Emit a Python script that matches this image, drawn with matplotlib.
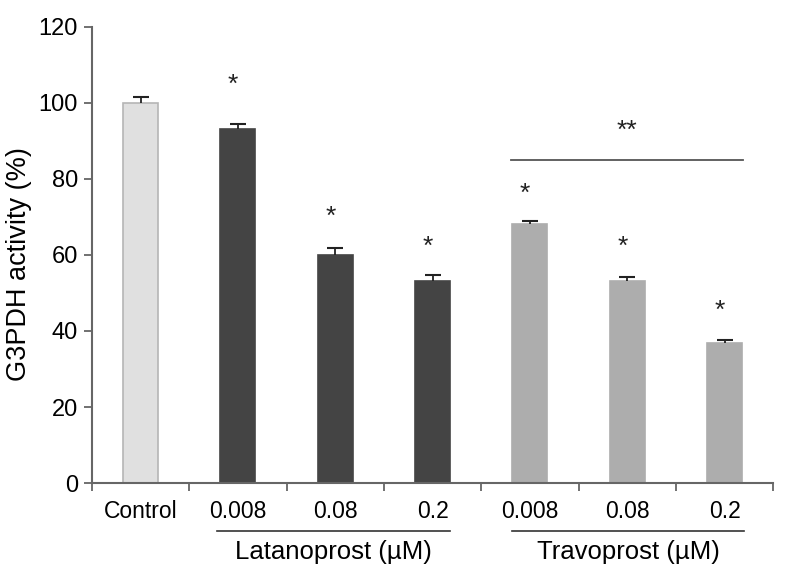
import numpy as np
import matplotlib
matplotlib.use("Agg")
import matplotlib.pyplot as plt
import matplotlib.transforms as mtransforms

plt.rcParams['font.family'] = ['Liberation Sans', 'DejaVu Sans']

# data
categories = ["Control", "0.008", "0.08", "0.2", "0.008", "0.08", "0.2"]
values = [100.0, 93.0, 60.0, 53.2, 68.0, 53.2, 36.8]
errors = [1.4, 1.3, 1.8, 1.4, 0.8, 1.1, 0.8]
stars = ["", "*", "*", "*", "*", "*", "*"]
star_y = [0, 104.6, 69.9, 62.2, 76.0, 62.2, 45.3]
bar_colors = ["#e0e0e0", "#444444", "#444444", "#444444", "#adadad", "#adadad", "#adadad"]
edge_colors = ["#b5b5b5", "#444444", "#444444", "#444444", "#adadad", "#adadad", "#adadad"]
groups = ["Latanoprost (\u00b5M)", "Travoprost (\u00b5M)"]
group_span = [(0.78, 3.18), (3.82, 6.20)]
sig_span = (3.81, 6.19)
sig_y = 85.0
sig_star_y = 92.7

fig = plt.figure(figsize=(7.93, 5.82), dpi=100)
ax = fig.add_axes([0.116, 0.170, 0.859, 0.784])

x = np.arange(len(categories))
ax.bar(x, values, width=0.36, color=bar_colors, edgecolor=edge_colors, linewidth=1.2, zorder=2)
eb = ax.errorbar(x, values, yerr=[np.zeros(len(values)), errors], fmt="none",
                 ecolor="#222222", elinewidth=1.3, capsize=6, capthick=1.5, zorder=3)
# only the upper cap, like a T
eb[1][0].set_visible(False)

for xi, s, sy in zip(x, stars, star_y):
    if s:
        ax.text(xi - 0.05, sy, s, ha="center", va="center", fontsize=19, color="#222222")

# significance line
ax.plot(sig_span, [sig_y, sig_y], color="#555555", lw=1.3)
ax.text(5.0, sig_star_y, "**", ha="center", va="center", fontsize=19, color="#222222")

ax.set_xlim(-0.5, 6.5)
ax.set_ylim(0, 120)
ax.set_yticks([0, 20, 40, 60, 80, 100, 120])
ax.tick_params(axis="y", labelsize=17, length=6, width=1.3, color="#666666", pad=4)

ax.set_xticks(x)
ax.set_xticklabels(categories, fontsize=16.5)
ax.tick_params(axis="x", length=0, pad=12)
ax.set_xticks(np.arange(-0.5, 7.0, 1.0), minor=True)
ax.tick_params(axis="x", which="minor", length=6, width=1.3, color="#666666")

for side in ["top", "right"]:
    ax.spines[side].set_visible(False)
for side in ["left", "bottom"]:
    ax.spines[side].set_color("#666666")
    ax.spines[side].set_linewidth(1.5)

ax.set_ylabel("G3PDH activity (%)", fontsize=19.5)
ax.yaxis.set_label_coords(-0.088, 0.481)

# group labels under the axis
trans = mtransforms.blended_transform_factory(ax.transData, ax.transAxes)
for name, (a, b) in zip(groups, group_span):
    ax.plot([a, b], [-0.105, -0.105], color="#333333", lw=1.2, transform=trans, clip_on=False)
    ax.text((a + b) / 2, -0.152, name, ha="center", va="center", fontsize=18.5, transform=trans)

fig.savefig("out.png", dpi=100)
